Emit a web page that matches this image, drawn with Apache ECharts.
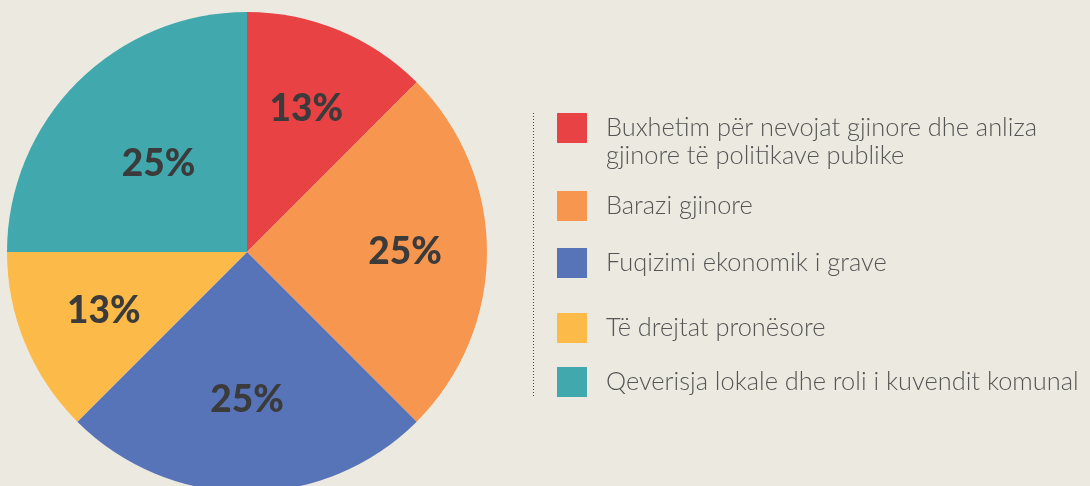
<!DOCTYPE html>
<html>
<head>
<meta charset="utf-8">
<script src="https://cdn.jsdelivr.net/npm/echarts@6/dist/echarts.min.js"></script>
<style>
  html, body { margin: 0; padding: 0; background: #ECE9E0; }
  #chart { width: 1090px; height: 486px; }
</style>
</head>
<body>
<div id="chart"></div>
<script>
// categories and shares (percent of the whole)
const categories = [
  'Buxhetim për nevojat gjinore dhe anliza\ngjinore të politikave publike',
  'Barazi gjinore',
  'Fuqizimi ekonomik i grave',
  'Të drejtat pronësore',
  'Qeverisja lokale dhe roli i kuvendit komunal'
];
const shares = [12.5, 25, 25, 12.5, 25];
const colors = ['#E84245', '#F7964E', '#5874B8', '#FCBB48', '#41A9AE'];

// label distance from pie centre, per slice
const labelRadius = [155, 158, 148, 155, 125];
const legendTops = [86, 191, 248, 313, 367];

const cx = 247, cy = 252, R = 240;

const chart = echarts.init(document.getElementById('chart'));

const legends = categories.map((name, i) => ({
  data: [name],
  left: 557,
  top: legendTops[i],
  orient: 'vertical',
  padding: 0,
  icon: 'rect',
  itemWidth: 30,
  itemHeight: 30,
  selectedMode: false,
  // empty first line keeps the first text line level with the square
  formatter: n => (i === 0 ? '\n' + n : n),
  textStyle: {
    fontFamily: 'Lato',
    fontWeight: 300,
    fontSize: 25.4,
    lineHeight: 28,
    color: '#555555',
    padding: [0, 0, 0, 14]
  }
}));

const option = {
  backgroundColor: '#ECE9E0',
  animation: false,
  legend: legends,
  graphic: [{
    type: 'line',
    shape: { x1: 533.5, y1: 113, x2: 533.5, y2: 397 },
    style: { stroke: '#444', lineWidth: 1, lineDash: [1, 2] }
  }],
  series: [{
    type: 'pie',
    center: [cx, cy],
    radius: [0, R],
    startAngle: 90,
    clockwise: true,
    silent: true,
    itemStyle: { borderWidth: 0 },
    label: {
      position: 'inside',
      formatter: p => Math.round(p.percent) + '%',
      fontFamily: 'Lato',
      fontWeight: 900,
      fontSize: 37,
      color: '#3B3B3B'
    },
    labelLine: { show: false },
    labelLayout: function (params) {
      const r = params.labelRect;
      const lx = r.x + r.width / 2, ly = r.y + r.height / 2;
      const vx = lx - cx, vy = ly - cy;
      const d = Math.sqrt(vx * vx + vy * vy) || 1;
      const k = labelRadius[params.dataIndex] / d;
      return { dx: vx * k - vx, dy: vy * k - vy };
    },
    data: categories.map((name, i) => ({
      name: name,
      value: shares[i],
      itemStyle: { color: colors[i] }
    }))
  }]
};

chart.setOption(option);
</script>
</body>
</html>
